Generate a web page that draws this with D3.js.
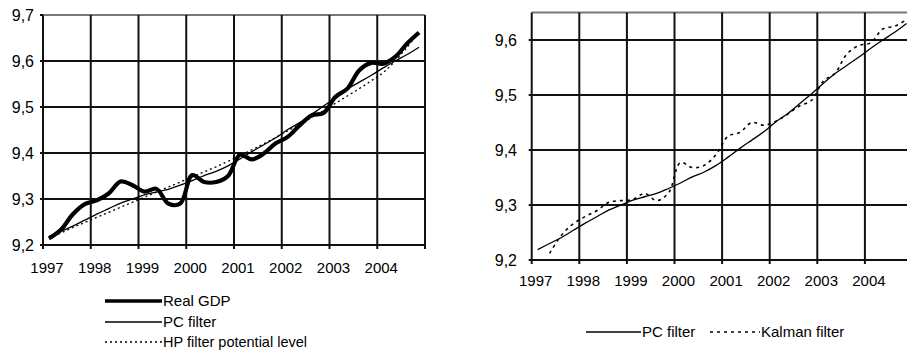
<!DOCTYPE html>
<html>
<head>
<meta charset="utf-8">
<script src="https://cdn.jsdelivr.net/npm/d3@7"></script>
<style>
  body { margin: 0; background: #fff; }
  svg text { font-family: "Liberation Sans", Arial, sans-serif; fill: #000; }
</style>
</head>
<body>
<script>
// data, quarterly 1997Q1 - 2004Q4
var years = [1997, 1998, 1999, 2000, 2001, 2002, 2003, 2004];
var quarters = years.flatMap(function(y) { return [1, 2, 3, 4].map(function(q) { return y + 'Q' + q; }); });

var realGdp = [9.214, 9.233, 9.267, 9.289, 9.297, 9.312, 9.338, 9.330,
               9.316, 9.322, 9.290, 9.290, 9.352, 9.337, 9.337, 9.350,
               9.396, 9.386, 9.399, 9.421, 9.435, 9.460, 9.482, 9.487,
               9.522, 9.540, 9.580, 9.596, 9.594, 9.609, 9.638, 9.662];

var pcFilter = [9.219, 9.230, 9.241, 9.254, 9.267, 9.279, 9.291, 9.300,
                9.309, 9.315, 9.321, 9.330, 9.340, 9.351, 9.360, 9.372,
                9.387, 9.403, 9.418, 9.433, 9.451, 9.466, 9.484, 9.502,
                9.521, 9.539, 9.554, 9.569, 9.585, 9.600, 9.614, 9.630];

var hpFilter = [9.215, 9.226, 9.238, 9.249, 9.260, 9.271, 9.282, 9.293,
                9.304, 9.315, 9.326, 9.337, 9.348, 9.359, 9.370, 9.382,
                9.394, 9.407, 9.420, 9.434, 9.448, 9.462, 9.477, 9.492,
                9.508, 9.524, 9.540, 9.557, 9.575, 9.600, 9.630, 9.664];

var kalman = [null, 9.212, 9.245, 9.266, 9.279, 9.290, 9.305, 9.308,
              9.310, 9.321, 9.308, 9.322, 9.377, 9.368, 9.372, 9.392,
              9.425, 9.432, 9.450, 9.445, 9.452, 9.465, 9.480, 9.490,
              9.525, 9.540, 9.575, 9.590, 9.595, 9.620, 9.625, 9.637];

var leftTicks = [9.2, 9.3, 9.4, 9.5, 9.6, 9.7];
var rightTicks = [9.2, 9.3, 9.4, 9.5, 9.6];

var W = 907, H = 351;
var comma = d3.formatLocale({decimal: ',', thousands: ' ', grouping: [3], currency: ['', '']}).format('.1f');

var svg = d3.select('body').append('svg')
    .attr('width', W)
    .attr('height', H);

function drawPanel(opt) {
    var g = svg.append('g');
    var x = d3.scaleBand().domain(quarters).range(opt.xr).paddingInner(0).paddingOuter(0);
    var y = d3.scaleLinear().domain(opt.yd).range(opt.yr);
    var yearX = years.map(function(yr) { return x(yr + 'Q1'); });
    yearX.push(opt.xr[1]);

    // horizontal grid
    g.selectAll('.hgrid').data(opt.ticks).enter().append('line')
        .attr('x1', opt.xr[0] - 3).attr('x2', opt.xr[1])
        .attr('y1', function(d) { return y(d); }).attr('y2', function(d) { return y(d); })
        .style('stroke', '#111').style('stroke-width', 2);
    g.append('line')
        .attr('x1', opt.xr[0]).attr('x2', opt.xr[1])
        .attr('y1', opt.yr[1]).attr('y2', opt.yr[1])
        .style('stroke', '#777').style('stroke-width', 2);

    // vertical grid, extends below axis as tick
    g.selectAll('.vgrid').data(yearX).enter().append('line')
        .attr('x1', function(d) { return d; }).attr('x2', function(d) { return d; })
        .attr('y1', opt.yr[1]).attr('y2', opt.yr[0] + 4)
        .style('stroke', '#111').style('stroke-width', 2);

    g.selectAll('.ylab').data(opt.ticks).enter().append('text')
        .attr('x', opt.ylabX)
        .attr('y', function(d) { return y(d); })
        .attr('dy', '0.36em')
        .attr('text-anchor', 'end')
        .style('font-size', '16px')
        .text(comma);

    g.selectAll('.xlab').data(years).enter().append('text')
        .attr('x', function(d) { return x(d + 'Q1') + 4; })
        .attr('y', opt.xlabY)
        .attr('text-anchor', 'middle')
        .style('font-size', '15px')
        .text(function(d) { return d; });

    opt.series.forEach(function(s) {
        var line = d3.line()
            .defined(function(d) { return d != null; })
            .x(function(d, i) { return x(quarters[i]) + x.bandwidth() / 2; })
            .y(function(d) { return y(d); })
            .curve(d3.curveCatmullRom.alpha(0.5));
        g.append('path')
            .datum(s.values)
            .attr('d', line)
            .style('fill', 'none')
            .style('stroke', '#000')
            .style('stroke-width', s.w)
            .style('stroke-dasharray', s.dash || null)
            .style('stroke-linejoin', 'round');
    });
    return g;
}

var gdpStyle = {w: 4.2};
var pcStyle = {w: 1.3};
var hpStyle = {w: 1.3, dash: '2,3'};
var kfStyle = {w: 1.6, dash: '3,4'};

drawPanel({
    xr: [43, 425], yd: [9.2, 9.7], yr: [245, 15], ticks: leftTicks,
    ylabX: 34, xlabY: 273,
    series: [
        Object.assign({values: hpFilter}, hpStyle),
        Object.assign({values: pcFilter}, pcStyle),
        Object.assign({values: realGdp}, gdpStyle)
    ]
});

drawPanel({
    xr: [531.7, 912.5], yd: [9.2, 9.65], yr: [260, 12.5], ticks: rightTicks,
    ylabX: 517, xlabY: 286,
    series: [
        Object.assign({values: kalman}, kfStyle),
        Object.assign({values: pcFilter}, pcStyle)
    ]
});

// legends
function legendItem(x1, x2, yy, st, label, fs) {
    svg.append('line')
        .attr('x1', x1).attr('x2', x2).attr('y1', yy).attr('y2', yy)
        .style('stroke', '#000')
        .style('stroke-width', st.w)
        .style('stroke-dasharray', st.dash || null);
    svg.append('text')
        .attr('x', x2 + 1).attr('y', yy)
        .attr('dy', '0.32em')
        .style('font-size', fs || '15px')
        .text(label);
}

legendItem(105, 162, 301, {w: 3.5}, 'Real GDP');
legendItem(105, 162, 322, pcStyle, 'PC filter');
legendItem(105, 162, 342, hpStyle, 'HP filter potential level', '14.5px');

legendItem(586, 641, 332, pcStyle, 'PC filter');
legendItem(710, 760, 332, kfStyle, 'Kalman filter');
</script>
</body>
</html>
